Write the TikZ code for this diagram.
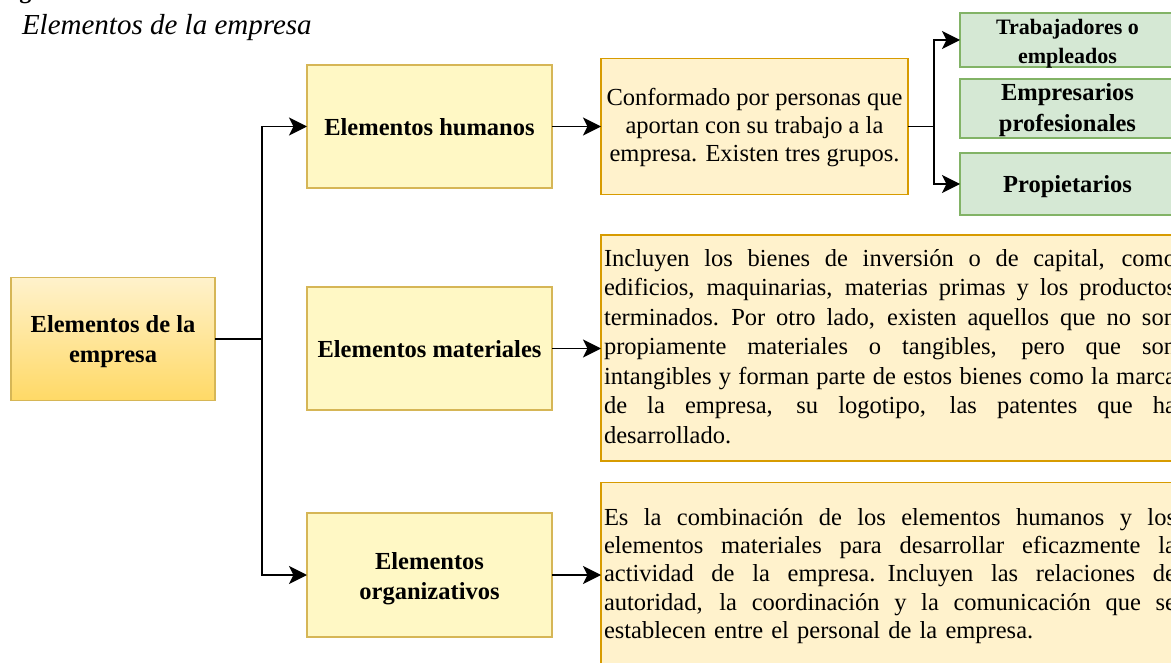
\documentclass[tikz,border=0pt]{standalone}
\usepackage{fontspec}
\setmainfont{Liberation Serif}
\usetikzlibrary{arrows.meta}
\definecolor{midfill}{HTML}{FFF8C5}
\definecolor{midline}{HTML}{D6B656}
\definecolor{descfill}{HTML}{FFF2CC}
\definecolor{descline}{HTML}{D79B00}
\definecolor{rootbot}{HTML}{FFD966}
\definecolor{greenfill}{HTML}{D5E8D4}
\definecolor{greenline}{HTML}{82B366}
\newcommand\jline[1]{\leavevmode\hbox to 572pt{\spaceskip=0.25em plus 1fil\relax #1}}
\begin{document}
\begin{tikzpicture}[x=1pt,y=-1pt,
  every node/.style={inner sep=0pt, outer sep=0pt},
  bx/.style={draw, line width=1.6pt, align=center},
  boldtxt/.style={align=center, font=\fontsize{24.5pt}{30.5pt}\selectfont\bfseries},
  midbox/.style={bx, draw=midline, fill=midfill, minimum width=245pt, minimum height=123pt},
  descbox/.style={bx, draw=descline, fill=descfill},
  greenbox/.style={bx, draw=greenline, fill=greenfill, minimum width=215pt},
  bodytext/.style={anchor=base west, align=left, text width=572pt},
  conn/.style={line width=1.8pt, black},
  arr/.style={conn, -{Stealth[length=18pt,width=18pt,inset=4.5pt]}}
]
\useasboundingbox (0,0) rectangle (1171,663);
\clip (0,0) rectangle (1171,663);

% caption
\node[anchor=base west, font=\fontsize{24pt}{28pt}\selectfont\bfseries] (fig) at (-2,-1) {Figura};
\node[anchor=base west, font=\fontsize{29pt}{34pt}\selectfont\itshape] (cap) at (22,34.5) {Elementos de la empresa};

% root
\node[bx, draw=midline, top color=descfill, bottom color=rootbot, minimum width=204pt, minimum height=123pt] (root) at (113,339) {};
\node[boldtxt] (roott) at (113,341.5) {Elementos de la\\empresa};

% middle column
\node[midbox] (hum) at (429.5,126.5) {};
\node[boldtxt] (humt) at (429.5,127) {Elementos humanos};
\node[midbox] (mat) at (429.5,348.5) {};
\node[boldtxt] (matt) at (429.5,349) {Elementos materiales};
\node[midbox, minimum height=124pt] (org) at (429.5,575) {};
\node[boldtxt] (orgt) at (429.5,578.5) {Elementos\\organizativos};

% descriptions
\node[descbox, minimum width=307pt, minimum height=136pt] (d1) at (754.5,126.5) {};
\node[align=center, font=\fontsize{24.5pt}{28pt}\selectfont] (d1t) at (754.5,127.5)
  {Conformado por personas que\\aportan con su trabajo a la\\empresa. Existen tres grupos.};
\node[descbox, minimum width=590pt, minimum height=226pt] (d2) at (896,348) {};
\node[descbox, minimum width=590pt, minimum height=240pt] (d3) at (896,602.5) {};

\node[bodytext, font=\fontsize{24.5pt}{29.5pt}\selectfont] (d2t) at (604,266.5) {%
\jline{Incluyen los bienes de inversión o de capital, como}\\
\jline{edificios, maquinarias, materias primas y los productos}\\
\jline{terminados. Por otro lado, existen aquellos que no son}\\
\jline{propiamente materiales o tangibles, pero que son}\\
\jline{intangibles y forman parte de estos bienes como la marca}\\
\jline{de la empresa, su logotipo, las patentes que ha}\\
desarrollado.};

\node[bodytext, font=\fontsize{24.5pt}{28.2pt}\selectfont] (d3t) at (604,525.5) {%
\jline{Es la combinación de los elementos humanos y los}\\
\jline{elementos materiales para desarrollar eficazmente la}\\
\jline{actividad de la empresa. Incluyen las relaciones de}\\
\jline{autoridad, la coordinación y la comunicación que se}\\
establecen entre el personal de la empresa.};

% green boxes
\node[greenbox, minimum height=54pt] (g1) at (1067.5,40) {};
\node[boldtxt, font=\fontsize{22pt}{29pt}\selectfont\bfseries] (g1t) at (1067.5,43.5) {Trabajadores o\\empleados};
\node[greenbox, minimum height=59pt] (g2) at (1067.5,108.5) {};
\node[boldtxt, font=\fontsize{24.5pt}{31pt}\selectfont\bfseries] (g2t) at (1067.5,110.5) {Empresarios\\profesionales};
\node[greenbox, minimum height=62pt] (g3) at (1067.5,184) {};
\node[boldtxt] (g3t) at (1067.5,186.5) {Propietarios};

% connectors
\draw[conn] (root.east) -- ++(47,0) coordinate (j1);
\draw[arr] (j1) |- (hum.west);
\draw[arr] (j1) |- (org.west);
\draw[arr] (hum.east) -- (hum.east -| d1.west);
\draw[arr] (mat.east) -- (mat.east -| d2.west);
\draw[arr] (org.east) -- (org.east -| d3.west);
\draw[conn] (d1.east) -- ++(26,0) coordinate (j2);
\draw[arr] (j2) |- (g1.west);
\draw[arr] (j2) |- (g3.west);
\end{tikzpicture}
\end{document}
